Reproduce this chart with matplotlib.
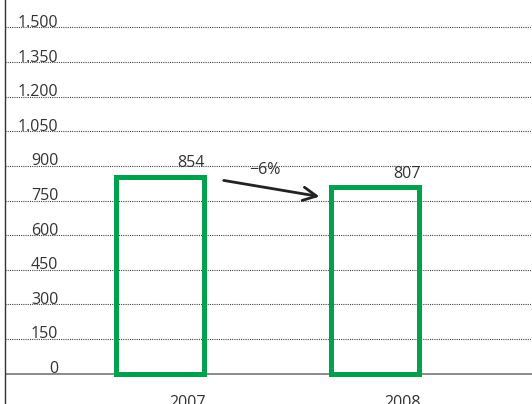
import matplotlib.pyplot as plt
import matplotlib.transforms as mtransforms

plt.rcParams['font.family'] = ['Open Sans', 'DejaVu Sans']

years = ['2007', '2008']
values = [854, 807]
change_label = '\u22126%'
yticks = [0, 150, 300, 450, 600, 750, 900, 1050, 1200, 1350, 1500]
ytick_labels = ['0', '150', '300', '450', '600', '750', '900',
                '1.050', '1.200', '1.350', '1.500']

green = '#00a04c'
text_col = '#333333'

fig = plt.figure(figsize=(5.32, 4.04), dpi=100)
ax = fig.add_axes([5 / 532, 0, 1 - 5 / 532, 1])
ax.set_xlim(-0.72, 1.73)
ax.set_ylim(-132, 1619)

# dotted gridlines with labels sitting on them
lab_tr = mtransforms.blended_transform_factory(ax.transAxes, ax.transData)
for v, lab in zip(yticks, ytick_labels):
    if v > 0:
        ax.axhline(v, color='#444444', lw=0.8, ls=(0, (1, 1)), zorder=1)
    ax.text(0.101, v + 2, lab, transform=lab_tr, ha='right', va='baseline',
            fontsize=11.5, color=text_col, zorder=2)

ax.axhline(0, color='#777777', lw=1.2, zorder=1)

x = range(len(years))
ax.bar(x, values, width=0.41, facecolor='none', edgecolor=green,
       linewidth=3.6, zorder=3)

for i, v in enumerate(values):
    ax.annotate(str(v), (i + 0.21, v), xytext=(0, 7), textcoords='offset points',
                ha='right', va='baseline', fontsize=11.5, color=text_col)
    ax.text(i + 0.13, -95, years[i], ha='center', va='top',
            fontsize=11.5, color=text_col)

# change arrow between the bars
ax.annotate('', xy=(0.755, 765), xytext=(0.284, 839),
            arrowprops=dict(arrowstyle='->', color='#222222', lw=2,
                            mutation_scale=24))
ax.text(0.49, 882, change_label, ha='center', va='center',
        fontsize=11.5, color=text_col)

ax.set_xticks([])
ax.set_yticks([])
for s in ['top', 'right', 'bottom']:
    ax.spines[s].set_visible(False)
ax.spines['left'].set_color('#333333')
ax.spines['left'].set_linewidth(1)

fig.savefig('out.png', dpi=100)
